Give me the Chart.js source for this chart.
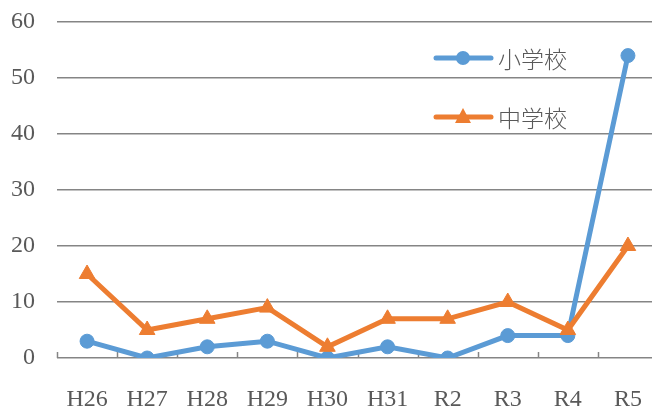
<!DOCTYPE html>
<html>
<head>
<meta charset="utf-8">
<script src="https://cdn.jsdelivr.net/npm/chart.js@4/dist/chart.umd.min.js"></script>
<style>
  html, body { margin: 0; padding: 0; background: #fff; overflow: hidden; }
  #wrap { width: 652px; height: 410px; overflow: hidden; }
</style>
</head>
<body>
<div id="wrap"><canvas id="schoolChart" width="658" height="410"></canvas></div>
<script>
const years = ['H26', 'H27', 'H28', 'H29', 'H30', 'H31', 'R2', 'R3', 'R4', 'R5'];
const seriesNames = ['小学校', '中学校'];
const elementary = [3, 0, 2, 3, 0, 2, 0, 4, 4, 54];
const juniorHigh = [15, 5, 7, 9, 2, 7, 7, 10, 5, 20];

const blue = '#5b9bd5';
const orange = '#ed7d31';

// legend drawn inside the plot, top right
const insideLegend = {
    id: 'insideLegend',
    afterDraw(chart) {
        const ctx = chart.ctx;
        const rows = [58, 117];
        ctx.save();
        chart.data.datasets.forEach((ds, i) => {
            const y = rows[i];
            ctx.strokeStyle = ds.borderColor;
            ctx.lineWidth = 5;
            ctx.lineCap = 'round';
            ctx.beginPath();
            ctx.moveTo(436, y);
            ctx.lineTo(491, y);
            ctx.stroke();
            ctx.fillStyle = ds.borderColor;
            ctx.beginPath();
            if (ds.pointStyle === 'triangle') {
                ctx.moveTo(463, y - 9);
                ctx.lineTo(471, y + 6);
                ctx.lineTo(455, y + 6);
                ctx.closePath();
            } else {
                ctx.arc(463, y, 7, 0, Math.PI * 2);
            }
            ctx.fill();
            ctx.fillStyle = '#595959';
            ctx.font = '300 23px "Noto Sans CJK JP"';
            ctx.textBaseline = 'middle';
            ctx.fillText(ds.label, 498, y + 1);
        });
        ctx.restore();
    }
};

// small upward tick marks on the category axis
const innerTicks = {
    id: 'innerTicks',
    beforeDatasetsDraw(chart) {
        const xs = chart.scales.x;
        const ctx = chart.ctx;
        const w = (xs.right - xs.left) / years.length;
        ctx.save();
        ctx.strokeStyle = '#858585';
        ctx.lineWidth = 1.5;
        for (let i = 0; i <= years.length; i++) {
            const x = Math.round(xs.left + i * w) + 0.5;
            ctx.beginPath();
            ctx.moveTo(x, xs.top);
            ctx.lineTo(x, xs.top - 6);
            ctx.stroke();
        }
        ctx.restore();
    }
};

new Chart(document.getElementById('schoolChart').getContext('2d'), {
    type: 'line',
    data: {
        labels: years,
        datasets: [{
            label: seriesNames[0],
            data: elementary,
            borderColor: blue,
            backgroundColor: blue,
            borderWidth: 5,
            pointStyle: 'circle',
            pointRadius: 7,
            pointBorderWidth: 1,
            tension: 0,
            order: 2
        }, {
            label: seriesNames[1],
            data: juniorHigh,
            borderColor: orange,
            backgroundColor: orange,
            borderWidth: 5,
            pointStyle: 'triangle',
            pointRadius: 9,
            pointBorderWidth: 1,
            tension: 0,
            order: 1
        }]
    },
    options: {
        responsive: false,
        animation: false,
        devicePixelRatio: 1,
        layout: { autoPadding: false, padding: { top: 22, left: 0, right: 0, bottom: 0 } },
        plugins: {
            legend: { display: false },
            tooltip: { enabled: false }
        },
        scales: {
            x: {
                offset: true,
                grid: { display: false, drawTicks: false },
                border: { display: false },
                ticks: {
                    padding: 27,
                    color: '#595959',
                    font: { family: '"Liberation Serif"', size: 24 }
                },
                afterFit(scale) {
                    scale.height = 52;
                    scale.paddingLeft = 0;
                    scale.paddingRight = 0;
                }
            },
            y: {
                min: 0,
                max: 60,
                ticks: {
                    stepSize: 10,
                    padding: 22,
                    color: '#595959',
                    font: { family: '"Liberation Serif"', size: 24 }
                },
                grid: { color: '#858585', lineWidth: 1.5, drawTicks: false },
                border: { display: false },
                afterFit(scale) {
                    scale.width = 57;
                    scale.paddingTop = 0;
                    scale.paddingBottom = 0;
                }
            }
        }
    },
    plugins: [innerTicks, insideLegend]
});
</script>
</body>
</html>
